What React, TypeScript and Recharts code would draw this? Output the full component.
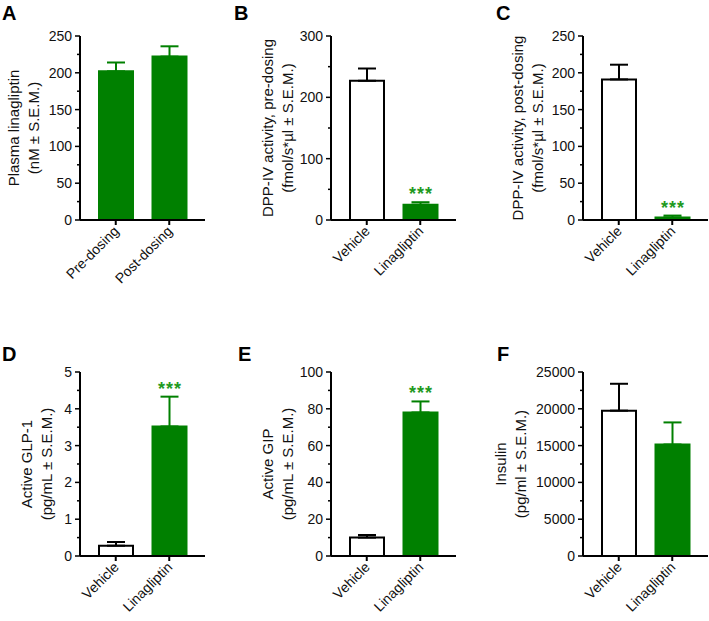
import React from "react";
import { Bar, BarChart, Cell, ErrorBar, Label, LabelList, XAxis, YAxis } from "recharts";

const GREEN = "#008000";
const STAR_GREEN = "#1f9a1f";
const FONT = "Arial, 'Liberation Sans', Helvetica, sans-serif";

const TIMEPOINTS = ["Pre-dosing", "Post-dosing"];
const TREATMENTS = ["Vehicle", "Linagliptin"];

// A – plasma linagliptin
const plasmaMean = [202, 222];
const plasmaSem = [12, 14];
const plasmaTicks = [0, 50, 100, 150, 200, 250];

// B – DPP-IV pre-dosing
const dppPreMean = [227, 25];
const dppPreSem = [20, 4];
const dppPreTicks = [0, 100, 200, 300];

// C – DPP-IV post-dosing
const dppPostMean = [191, 3.5];
const dppPostSem = [20, 2.5];
const dppPostTicks = [0, 50, 100, 150, 200, 250];

// D – active GLP-1
const glpMean = [0.28, 3.52];
const glpSem = [0.1, 0.81];
const glpTicks = [0, 1, 2, 3, 4, 5];

// E – active GIP
const gipMean = [10, 78];
const gipSem = [1.4, 6];
const gipTicks = [0, 20, 40, 60, 80, 100];

// F – insulin
const insMean = [19750, 15150];
const insSem = [3650, 3000];
const insTicks = [0, 5000, 10000, 15000, 20000, 25000];

const STARS_NONE = ["", ""];
const STARS_DRUG = ["", "***"];
const BOTH_GREEN = [true, true];
const DRUG_GREEN = [false, true];

type PanelProps = {
  axisX: number;
  top: number;
  cats: string[];
  mean: number[];
  sem: number[];
  green: boolean[];
  stars: string[];
  ticks: number[];
  lines: string[];
  labelOff: number;
};

const withMinors = (ticks: number[]) => {
  const out: number[] = [];
  ticks.forEach((t, i) => {
    out.push(t);
    if (i < ticks.length - 1) out.push((t + ticks[i + 1]) / 2);
  });
  return out;
};

function Panel({ axisX, top, cats, mean, sem, green, stars, ticks, lines, labelOff }: PanelProps) {
  const rows = cats.map((c, i) => ({
    name: c,
    mean: mean[i],
    errGreen: green[i] ? [0, sem[i]] : null,
    errDark: green[i] ? null : [0, sem[i]],
    stars: stars[i],
  }));

  const yTick = (p: any) => {
    const { x, y, payload } = p;
    const major = ticks.includes(payload.value);
    return (
      <g>
        <line x1={x - (major ? 5 : 3)} x2={x} y1={y} y2={y} stroke="#000" strokeWidth={1.5} />
        {major && (
          <text x={x - 8} y={y} dy={5} textAnchor="end" fontSize={14} fill="#111">
            {payload.value}
          </text>
        )}
      </g>
    );
  };

  const xTick = (p: any) => {
    const { x, y, payload } = p;
    const ax = x + 4;
    const ay = y + 12;
    return (
      <g>
        <line x1={x} x2={x} y1={y} y2={y + 5} stroke="#000" strokeWidth={2} />
        <text x={ax} y={ay} textAnchor="end" fontSize={14} fill="#111" transform={`rotate(-45 ${ax} ${ay})`}>
          {payload.value}
        </text>
      </g>
    );
  };

  const yLabel = (p: any) => {
    const vb = p.viewBox;
    const ax = vb.x + vb.width;
    const cy = vb.y + vb.height / 2;
    return (
      <g>
        {lines.map((l, i) => {
          const lx = ax - labelOff - (lines.length - 1 - i) * 20;
          return (
            <text key={i} x={lx} y={cy} textAnchor="middle" fontSize={15} fill="#111" transform={`rotate(-90 ${lx} ${cy})`}>
              {l}
            </text>
          );
        })}
      </g>
    );
  };

  const starLabel = (p: any) => {
    const vb = p.viewBox || p;
    const i = p.index;
    if (!p.value) return null;
    const errTop = vb.y - (sem[i] * vb.height) / mean[i];
    return (
      <text x={vb.x + vb.width / 2 + 0.5} y={errTop - 2} textAnchor="middle" fontSize={18} fontWeight="bold" letterSpacing={1} fill={STAR_GREEN}>
        {p.value}
      </text>
    );
  };

  return (
    <div style={{ position: "absolute", left: axisX - 100, top }}>
      <BarChart width={260} height={300} data={rows} margin={{ top: 36, right: 35, left: 50, bottom: 20 }}>
        <XAxis
          dataKey="name"
          height={60}
          padding={{ left: 9, right: 9 }}
          axisLine={{ stroke: "#000", strokeWidth: 2 }}
          tickLine={false}
          tickSize={0}
          tickMargin={0}
          interval={0}
          tick={xTick}
        />
        <YAxis
          width={50}
          domain={[0, ticks[ticks.length - 1]]}
          ticks={withMinors(ticks)}
          interval={0}
          axisLine={{ stroke: "#000", strokeWidth: 2 }}
          tickLine={false}
          tickSize={0}
          tickMargin={0}
          tick={yTick}
        >
          <Label content={yLabel} />
        </YAxis>
        <Bar dataKey="mean" barSize={34} strokeWidth={2} isAnimationActive={false}>
          {rows.map((r, i) => (
            <Cell key={r.name} fill={green[i] ? GREEN : "#fff"} stroke={green[i] ? GREEN : "#000"} />
          ))}
          <ErrorBar dataKey="errDark" width={9} stroke="#000" strokeWidth={2} direction="y" />
          <ErrorBar dataKey="errGreen" width={9} stroke={GREEN} strokeWidth={2} direction="y" />
          <LabelList dataKey="stars" content={starLabel} />
        </Bar>
      </BarChart>
    </div>
  );
}

const LETTERS = [
  { t: "A", x: 2, y: 20 },
  { t: "B", x: 234, y: 20 },
  { t: "C", x: 496, y: 20 },
  { t: "D", x: 2, y: 361 },
  { t: "E", x: 238, y: 361 },
  { t: "F", x: 497, y: 361 },
];

export default function App() {
  return (
    <div style={{ position: "absolute", left: 0, top: 0, width: 709, height: 621, overflow: "hidden", background: "#fff", fontFamily: FONT }}>
      <Panel axisX={80} top={0} cats={TIMEPOINTS} mean={plasmaMean} sem={plasmaSem} green={BOTH_GREEN} stars={STARS_NONE} ticks={plasmaTicks} lines={["Plasma linagliptin", "(nM ± S.E.M.)"]} labelOff={41} />
      <Panel axisX={331} top={0} cats={TREATMENTS} mean={dppPreMean} sem={dppPreSem} green={DRUG_GREEN} stars={STARS_DRUG} ticks={dppPreTicks} lines={["DPP-IV activity, pre-dosing", "(fmol/s*µl ± S.E.M.)"]} labelOff={38} />
      <Panel axisX={583} top={0} cats={TREATMENTS} mean={dppPostMean} sem={dppPostSem} green={DRUG_GREEN} stars={STARS_DRUG} ticks={dppPostTicks} lines={["DPP-IV activity, post-dosing", "(fmol/s*µl ± S.E.M.)"]} labelOff={40} />
      <Panel axisX={80} top={336} cats={TREATMENTS} mean={glpMean} sem={glpSem} green={DRUG_GREEN} stars={STARS_DRUG} ticks={glpTicks} lines={["Active GLP-1", "(pg/mL ± S.E.M.)"]} labelOff={28} />
      <Panel axisX={331} top={336} cats={TREATMENTS} mean={gipMean} sem={gipSem} green={DRUG_GREEN} stars={STARS_DRUG} ticks={gipTicks} lines={["Active GIP", "(pg/mL ± S.E.M.)"]} labelOff={38} />
      <Panel axisX={583} top={336} cats={TREATMENTS} mean={insMean} sem={insSem} green={DRUG_GREEN} stars={STARS_NONE} ticks={insTicks} lines={["Insulin", "(pg/ml ± S.E.M.)"]} labelOff={57} />
      <svg width={709} height={621} style={{ position: "absolute", left: 0, top: 0, pointerEvents: "none" }}>
        {LETTERS.map((l) => (
          <text key={l.t} x={l.x} y={l.y} fontSize={20} fontWeight="bold" fill="#000">
            {l.t}
          </text>
        ))}
      </svg>
    </div>
  );
}
